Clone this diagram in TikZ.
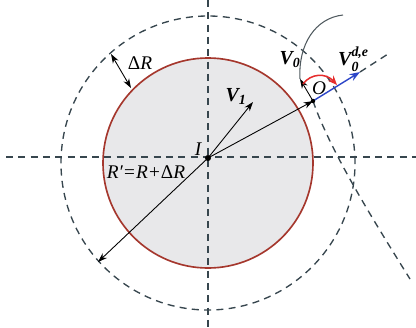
\documentclass[tikz,border=0pt]{standalone}
\usepackage{amsmath}
\usepackage{fontspec}
\setmainfont{Liberation Serif}
\usepackage{tikz}
\usetikzlibrary{arrows.meta}
\definecolor{rimred}{RGB}{165,55,45}
\definecolor{dashgray}{RGB}{55,70,78}
\definecolor{diskgray}{RGB}{232,232,234}
\definecolor{velblue}{RGB}{45,70,200}
\definecolor{turnred}{RGB}{230,45,45}
\definecolor{pathgray}{RGB}{80,90,95}
\tikzset{guide/.style={dashgray, line width=1.15pt, dash pattern=on 6pt off 4.5pt},
  vec/.style={-{Stealth[length=8pt,width=5.5pt]}, line width=0.75pt},
  lbl/.style={font=\fontsize{16.5}{18}\selectfont\itshape, inner sep=0pt},
  vlbl/.style={font=\fontsize{17}{19}\selectfont\bfseries\itshape, inner sep=0pt}}

\begin{document}
\begin{tikzpicture}[x=0.03cm, y=-0.03cm]
  \useasboundingbox (0,0) rectangle (416,327);
  \coordinate (C) at (208,163);
  \coordinate (I) at (208,158);
  \coordinate (O) at (313,101);
  \coordinate (vtop) at (208,0);
  \coordinate (vbot) at (208,327);
  \coordinate (hleft) at (6,157);
  \coordinate (hright) at (416,157);

  \fill[diskgray] (C) circle[radius=3.15cm];
  \draw[guide] (vtop) -- (vbot);
  \draw[guide] (hleft) -- (hright);
  \draw[guide] (C) circle[radius=4.41cm];
  \draw[rimred, line width=1.4pt] (C) circle[radius=3.15cm];

  \coordinate (dRout) at (111,54);
  \coordinate (dRin) at (131,88);
  \coordinate (Vone) at (253,102);
  \coordinate (Rtip) at (98,262);
  \coordinate (Vde) at (360,72);
  \coordinate (rayend) at (388,54);
  \coordinate (Vzero) at (300,79);
  \coordinate (trajtop) at (343,15);
  \coordinate (trajend) at (410,279);
  \coordinate (turnA) at (303,84);
  \coordinate (turnB) at (337,85);

  \draw[vec, {Stealth[length=8pt,width=5.5pt]}-{Stealth[length=8pt,width=5.5pt]}] (dRout) -- (dRin);
  \draw[vec] (I) -- (Vone);
  \draw[vec] (I) -- (Rtip);
  \draw[vec] (I) -- (O);
  \draw[vec, velblue, line width=1.2pt, -{Stealth[length=9pt,width=6.5pt]}] (O) -- (Vde);
  \draw[guide] (Vde) -- (rayend);
  \draw[pathgray, line width=0.9pt] (Vzero) .. controls (298,45) and (315,18) .. (trajtop);
  \draw[guide] (O) .. controls (330,150) and (370,215) .. (trajend);
  \draw[vec] (O) -- (Vzero);
  \draw[turnred, line width=1.3pt, -{Stealth[length=8pt,width=6.5pt]}] (turnA) .. controls (311,73) and (326,73) .. (turnB);

  \fill (I) circle[radius=2.6pt];
  \fill (O) circle[radius=1.9pt];

  \node[lbl] (dRlbl) at (140,63) {{\upshape Δ}R};
  \node[lbl] (Ilbl) at (198,149) {I};
  \node[lbl] (Olbl) at (319,88) {O};
  \node[lbl] (Rlbl) at (146,172) {R′=R+{\upshape Δ}R};
  \node[vlbl] (V1lbl) at (236,96) {V$_{\text{1}}$};
  \node[vlbl] (V0lbl) at (290,60) {V$_{\text{0}}$};
  \node[vlbl, anchor=west] (Vdelbl) at (338,59) {V$^{\text{d,e}}_{\text{0}}$};
\end{tikzpicture}
\end{document}
